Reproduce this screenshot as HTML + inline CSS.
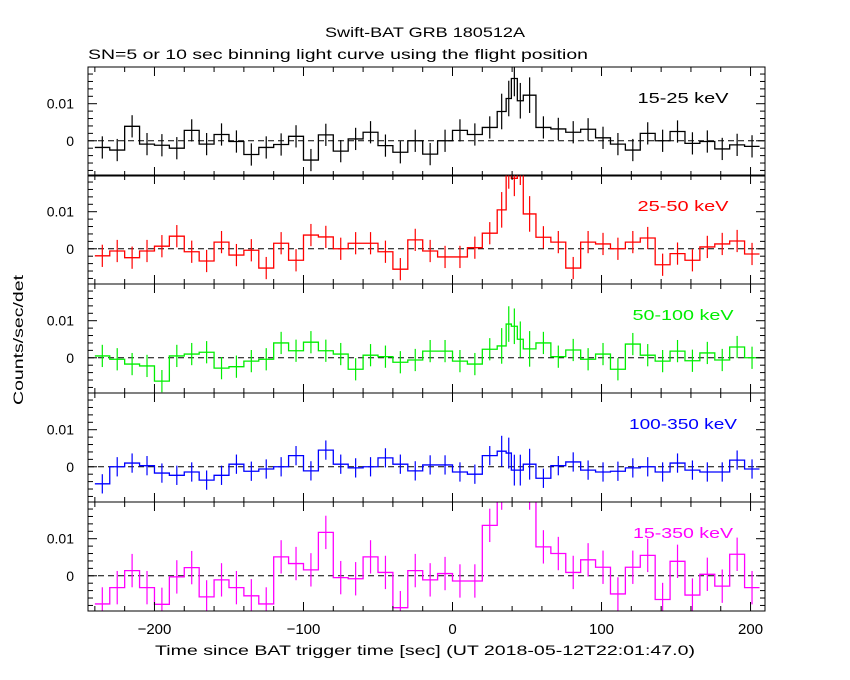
<!DOCTYPE html>
<html><head><meta charset="utf-8">
<style>
html,body{margin:0;padding:0;background:#fff;}
svg{display:block;font-family:"Liberation Sans",sans-serif;}
</style></head>
<body>
<svg id="chart" width="850" height="680" viewBox="0 0 850 680">
<text x="325" y="37" textLength="200" lengthAdjust="spacingAndGlyphs" font-size="14">Swift-BAT GRB 180512A</text>
<text x="88" y="59" textLength="500" lengthAdjust="spacingAndGlyphs" font-size="14">SN=5 or 10 sec binning light curve using the flight position</text>
<text transform="translate(23,405) rotate(-90)" textLength="130" lengthAdjust="spacingAndGlyphs" font-size="14">Counts/sec/det</text>
<text x="155" y="655" textLength="540" lengthAdjust="spacingAndGlyphs" font-size="14">Time since BAT trigger time [sec] (UT 2018-05-12T22:01:47.0)</text>
<g id="panels"></g>
</svg>
<script>
// bin edges (seconds)
const edges = [-240,-230,-220,-210,-200,-190,-180,-170,-160,-150,-140,-130,-120,-110,-100,-90,-80,-70,-60,-50,-40,-30,-20,-10,0,10,20,30,36,39.5,43.5,47.5,56,66,76,86,96,106,116,126,136,146,156,166,176,186,196,206];
const bandLabels = ["15-25 keV","25-50 keV","50-100 keV","100-350 keV","15-350 keV"];
const bandColors = ["#000000","#ff0000","#00ee00","#0000ff","#ff00ff"];
const band1 = [-0.0018,-0.0025,0.0039,-0.0009,-0.0012,-0.002,0.0028,-0.0009,0.0017,-0.0002,-0.0037,-0.0018,-0.001,0.0012,-0.0052,0.0016,-0.0028,0.0005,0.0023,-0.0013,-0.0031,0,-0.0036,0,0.0028,0.0017,0.0036,0.0079,0.0114,0.0168,0.0108,0.0123,0.0036,0.0032,0.0023,0.0031,0.0008,-0.0009,-0.0025,0.002,0,0.0025,-0.0007,-0.0002,-0.0022,-0.0011,-0.0015];
const band2 = [-0.0019,-0.0006,-0.0024,-0.0006,0.0007,0.0034,-0.0008,-0.0033,0.0018,-0.0017,-0.0004,-0.0052,0.0015,-0.0031,0.0037,0.0032,0,0.0015,0.0015,-0.0008,-0.0055,0.0024,-0.0006,-0.0022,-0.0022,0.0003,0.0042,0.0105,0.021,0.019,0.022,0.0094,0.0031,0.0018,-0.0052,0.0018,0.0013,0,0.0018,0.0029,-0.0043,-0.0013,-0.0031,0.0005,0.0013,0.0021,-0.0014];
const band3 = [0.0005,-0.0004,-0.0017,-0.0022,-0.0063,0.0005,0.001,0.0015,-0.0028,-0.0024,-0.0009,-0.0004,0.004,0.0019,0.0042,0.0019,0.001,-0.0031,0.0007,0.0003,-0.0012,-0.0006,0.0018,0.0018,-0.0009,-0.0017,0.0023,0.0032,0.0091,0.0085,0.005,0.0024,0.004,0.0003,0.0021,-0.0004,0.001,-0.0031,0.0037,0.0007,-0.0009,0.0018,-0.0008,0.0013,-0.0006,0.0029,0];
const band4 = [-0.0046,0,0.001,0.0003,-0.0017,-0.0023,-0.0014,-0.0036,-0.0023,0.0007,-0.0012,-0.0006,0,0.003,-0.0011,0.0045,0.0007,-0.0003,0,0.0024,0.0007,-0.0011,0.0005,0.0005,-0.0014,-0.002,0.003,0.0042,0.0037,-0.0009,-0.0009,0.0007,-0.0031,0.0003,0.0013,-0.0009,-0.0014,-0.0012,-0.0003,0,-0.0014,0.001,-0.0009,-0.0014,-0.0014,0.0018,-0.0006];
const band5 = [-0.0076,-0.0032,0.0014,-0.0032,-0.0077,-0.0003,0.0022,-0.0057,-0.0011,-0.0032,-0.0054,-0.0076,0.0051,0.0033,0.0016,0.0117,-0.0005,-0.0008,0.0051,0.0009,-0.0086,0.0014,-0.0011,0.0006,-0.0014,-0.0014,0.0136,0.025,0.03,0.035,0.03,0.025,0.0078,0.006,0.0009,0.0043,0.0023,-0.0049,0.0023,0.0055,-0.0064,0.0039,-0.0052,0.0004,-0.0028,0.0058,-0.0032];
const bandErr = [0.003,0.003,0.003,0.0026,0.0045];
const xTicks = [-200,-100,0,100,200];
const yTicks = [0,0.01];

const series = [band1,band2,band3,band4,band5];
const labelWidths = [91,91,101,108,100];
const NS = "http://www.w3.org/2000/svg";
const L = 88, R = 765, panelTops = [67,175,284,393,502], PH = 109;
const tMin = -244.6, tMax = 209.7, yMin = -0.0095, yMax = 0.0199;
const xs = t => L + (t - tMin) / (tMax - tMin) * (R - L);
const g = document.getElementById('panels');
function mk(tag, attrs, parent){ const e=document.createElementNS(NS,tag); for(const k in attrs) e.setAttribute(k,attrs[k]); (parent||g).appendChild(e); return e; }

series.forEach((vals, p) => {
  const top = panelTops[p], bot = top + PH;
  const ys = v => top + (yMax - v) / (yMax - yMin) * PH;
  const pg = mk('g', {});
  
  
  const clipId = 'clip' + p;
  const cp = mk('clipPath', {id: clipId}, pg);
  mk('rect', {x: L, y: top, width: R - L, height: PH}, cp);
  const zl = mk('line', {x1: L, x2: R, y1: ys(0), y2: ys(0), stroke: '#000', 'stroke-dasharray': '6,4', 'stroke-width': 1}, pg);
  
  
  let d = '';
  vals.forEach((v, i) => {
    const x0 = xs(edges[i]), x1 = xs(edges[i+1]), y = ys(v);
    d += (i === 0 ? 'M' + x0 + ',' + y : 'L' + x0 + ',' + y) + 'L' + x1 + ',' + y;
  });
  const path = mk('path', {d: d, fill: 'none', stroke: bandColors[p], 'stroke-width': 1.3, 'clip-path': 'url(#' + clipId + ')'}, pg);
  
  
  vals.forEach((v, i) => {
    const c = xs((edges[i] + edges[i+1]) / 2);
    const w = edges[i+1] - edges[i];
    const e = bandErr[p] * (w < 10 ? 1.6 : 1);
    const eb = mk('line', {x1: c, x2: c, y1: ys(v + e), y2: ys(v - e), stroke: bandColors[p], 'stroke-width': 1.2, 'clip-path': 'url(#' + clipId + ')'}, pg);
    
    
  });
  const fr = mk('rect', {x: L, y: top, width: R - L, height: PH, fill: 'none', stroke: '#000', 'stroke-width': 1}, pg);
  
  
  for (let t = -240; t <= 200; t += 20) {
    const x = xs(t), len = (t % 100 === 0) ? 9 : 5;
    mk('line', {x1: x, x2: x, y1: top, y2: top + len, stroke: '#000'}, pg);
    mk('line', {x1: x, x2: x, y1: bot, y2: bot - len, stroke: '#000'}, pg);
  }
  for (let v = -0.008; v <= 0.0195; v += 0.002) {
    const vv = Math.round(v * 1000) / 1000;
    const y = ys(vv), len = (Math.abs(vv) < 1e-9 || Math.abs(vv - 0.01) < 1e-9) ? 9 : 5;
    mk('line', {x1: L, x2: L + len, y1: y, y2: y, stroke: '#000'}, pg);
    mk('line', {x1: R, x2: R - len, y1: y, y2: y, stroke: '#000'}, pg);
  }
  yTicks.forEach(v => {
    const tl = mk('text', {x: 74, y: ys(v) + 5, 'text-anchor': 'end', 'font-size': 14}, pg);
    tl.textContent = v === 0 ? '0' : '0.01';
    
    
  });
  const lw = labelWidths[p];
  const lab = mk('text', {x: 683 - lw / 2, y: top + 36, 'font-size': 15, fill: bandColors[p], textLength: lw, lengthAdjust: 'spacingAndGlyphs'}, pg);
  lab.textContent = bandLabels[p];
  
  
});
xTicks.forEach(t => {
  const tl = mk('text', {x: xs(t), y: 634, 'text-anchor': 'middle', 'font-size': 15});
  tl.textContent = t < 0 ? '\u2212' + Math.abs(t) : String(t);
  
  
});
</script>
</body></html>
